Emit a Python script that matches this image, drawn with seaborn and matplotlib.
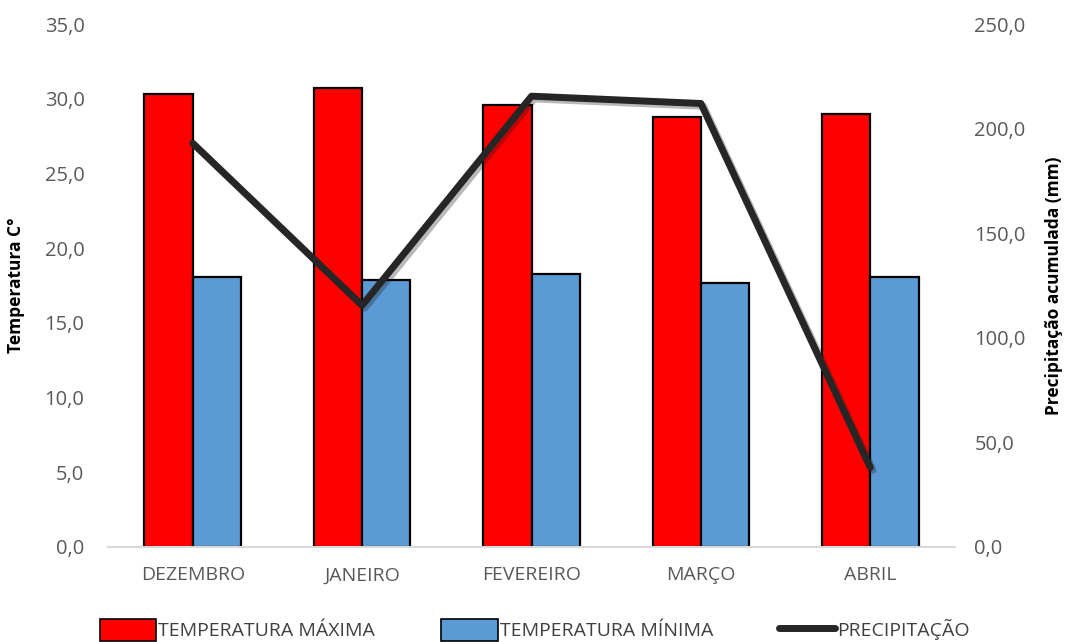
import matplotlib
matplotlib.use("Agg")
import matplotlib.pyplot as plt
import matplotlib.patheffects as pe
from matplotlib.patches import Patch
from matplotlib.lines import Line2D
import seaborn as sns
import numpy as np
import pandas as pd

months = ["DEZEMBRO", "JANEIRO", "FEVEREIRO", "MARÇO", "ABRIL"]
temp_max = [30.3, 30.7, 29.6, 28.8, 29.0]
temp_min = [18.1, 17.9, 18.3, 17.7, 18.1]
precip = [193.0, 115.5, 215.5, 212.0, 38.0]
series_names = ["TEMPERATURA MÁXIMA", "TEMPERATURA MÍNIMA"]
line_name = "PRECIPITAÇÃO"
left_ticks = [0, 5, 10, 15, 20, 25, 30, 35]
right_ticks = [0, 50, 100, 150, 200, 250]

sns.set_theme(style="white")
plt.rcParams['font.family'] = ['Open Sans', 'DejaVu Sans']

df = pd.DataFrame({
    "mes": months * 2,
    "valor": temp_max + temp_min,
    "serie": [series_names[0]] * len(months) + [series_names[1]] * len(months),
})

fig = plt.figure(figsize=(10.7, 6.42), dpi=100)
ax = fig.add_axes([0.101, 0.148, 0.7915, 0.8146])

colors = {series_names[0]: "#FF0000", series_names[1]: "#5B9BD5"}
sns.barplot(data=df, x="mes", y="valor", hue="serie", order=months,
            hue_order=series_names, palette=colors, width=0.57,
            edgecolor="black", linewidth=1.6, ax=ax, legend=False,
            errorbar=None, saturation=1)

ax.set_xlim(-0.5, len(months) - 0.5)
ax.set_ylim(0, 35)
ax.set_yticks(left_ticks)
ax.set_yticklabels([f"{t:.1f}".replace(".", ",") for t in left_ticks])
ax.set_xlabel("")
ax.set_ylabel("Temperatura C°", fontsize=12.5, fontweight="bold", color="black", labelpad=14)
for s in ["top", "right", "left"]:
    ax.spines[s].set_visible(False)
ax.spines["bottom"].set_color("#D9D9D9")
ax.spines["bottom"].set_linewidth(1.5)
ax.tick_params(axis="y", length=0, labelsize=14.5, colors="#595959", pad=17)
ax.tick_params(axis="x", length=0, labelsize=14, colors="#595959", pad=14)

ax2 = ax.twinx()
sns.lineplot(x=np.arange(len(months)), y=precip, ax=ax2, color="#262626",
             linewidth=5, legend=False,
             path_effects=[pe.SimpleLineShadow(offset=(2, -2), alpha=0.3), pe.Normal()])
ax2.set_ylim(0, 250)
ax2.set_yticks(right_ticks)
ax2.set_yticklabels([f"{t:.1f}".replace(".", ",") for t in right_ticks])
ax2.set_ylabel("Precipitação acumulada (mm)", fontsize=12.5, fontweight="bold", color="black", labelpad=14)
for s in ["top", "right", "left", "bottom"]:
    ax2.spines[s].set_visible(False)
ax2.tick_params(axis="y", length=0, labelsize=14.5, colors="#595959", pad=14)
ax2.grid(False)
ax.grid(False)

handles = [
    Patch(facecolor="#FF0000", edgecolor="black", linewidth=1.2, label=series_names[0]),
    Patch(facecolor="#5B9BD5", edgecolor="black", linewidth=1.2, label=series_names[1]),
    Line2D([0], [0], color="#262626", linewidth=5, label=line_name),
]
fig.legend(handles=handles, loc="lower center", bbox_to_anchor=(0.5, -0.025), ncol=3,
           frameon=False, fontsize=14, handlelength=2.9, handleheight=1.3,
           columnspacing=3.4, handletextpad=0.1, labelcolor="#404040")

fig.savefig("out.png", dpi=100)
